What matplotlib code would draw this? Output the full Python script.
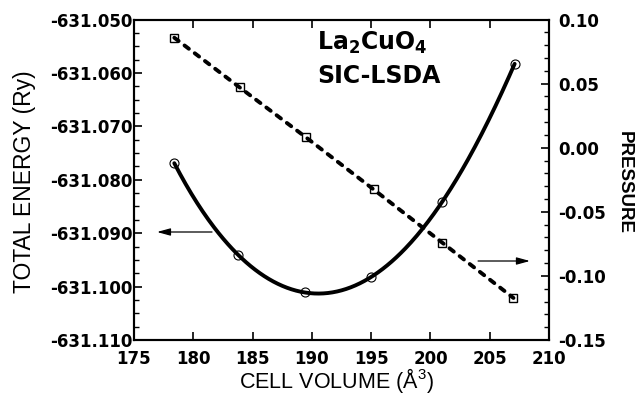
import numpy as np
import matplotlib
matplotlib.use('Agg')
import matplotlib.pyplot as plt
from matplotlib.ticker import MultipleLocator

plt.rcParams['mathtext.fontset'] = 'custom'
plt.rcParams['mathtext.rm'] = 'Liberation Sans'
plt.rcParams['mathtext.bf'] = 'DejaVu Sans:bold'

# ---- data ----
energy_volume = [178.4, 183.8, 189.4, 195.0, 201.0, 207.1]
energy = [-631.0769, -631.0941, -631.1011, -631.0982, -631.0841, -631.0583]
pressure_volume = [178.4, 183.9, 189.5, 195.2, 201.0, 207.0]
pressure = [0.0858, 0.0471, 0.0081, -0.0325, -0.0741, -0.1172]

x_ticks = [175, 180, 185, 190, 195, 200, 205, 210]
x_tick_labels = ['175', '180', '185', '190', '195', '200', '205', '210']
energy_ticks = [-631.110, -631.100, -631.090, -631.080, -631.070, -631.060, -631.050]
energy_tick_labels = ['-631.110', '-631.100', '-631.090', '-631.080',
                      '-631.070', '-631.060', '-631.050']
pressure_ticks = [-0.15, -0.10, -0.05, 0.00, 0.05, 0.10]
pressure_tick_labels = ['-0.15', '-0.10', '-0.05', '0.00', '0.05', '0.10']

tick_kw = dict(fontfamily='DejaVu Sans', fontweight='bold', fontsize=12)

fig = plt.figure(figsize=(6.39, 3.98), dpi=100)
ax = fig.add_axes([0.2097, 0.1457, 0.6495, 0.8053])
ax2 = ax.twinx()

# smooth curve through the energy points
fit = np.polynomial.Polynomial.fit(energy_volume, energy, 5)
vv = np.linspace(min(energy_volume), max(energy_volume), 300)
ax.plot(vv, fit(vv), color='black', lw=2.8, solid_capstyle='round', zorder=2)
ax.plot(energy_volume, energy, linestyle='none', marker='o', markersize=6.5,
        markerfacecolor='none', markeredgecolor='black', markeredgewidth=0.8, zorder=3)

# pressure: dashed line with open squares
pl, = ax2.plot(pressure_volume, pressure, color='black', lw=2.8,
               dash_capstyle='round', zorder=2)
pl.set_dashes((1.4, 1.9))
ax2.plot(pressure_volume, pressure, linestyle='none', marker='s', markersize=5.5,
         markerfacecolor='none', markeredgecolor='black', markeredgewidth=1.0, zorder=3)

ax.set_xlim(175, 210)
ax.set_ylim(-631.110, -631.050)
ax2.set_ylim(-0.15, 0.10)

ax.set_xticks(x_ticks, labels=x_tick_labels, **tick_kw)
ax.set_yticks(energy_ticks, labels=energy_tick_labels, **tick_kw)
ax2.set_yticks(pressure_ticks, labels=pressure_tick_labels, **tick_kw)
ax.yaxis.set_minor_locator(MultipleLocator(0.0025))
ax2.yaxis.set_minor_locator(MultipleLocator(0.01))

ax.tick_params(axis='x', which='major', direction='in', length=6, width=1.2,
               top=True, bottom=True, pad=7)
ax.tick_params(axis='y', which='major', direction='in', length=6, width=1.2,
               left=True, right=False, pad=1)
ax.tick_params(axis='y', which='minor', direction='in', length=3.5, width=1.0,
               left=True, right=False)
ax2.tick_params(axis='y', which='major', direction='in', length=6, width=1.2,
                left=False, right=True, pad=6.5)
ax2.tick_params(axis='y', which='minor', direction='in', length=3.5, width=1.0,
                left=False, right=True)
ax2.tick_params(axis='x', which='both', top=False, bottom=False)

for a in (ax, ax2):
    for s in a.spines.values():
        s.set_linewidth(1.5)

# axis labels
ax.set_xlabel('CELL VOLUME (Å$^{3}$)', fontfamily='Liberation Sans', fontsize=15.5)
ax.xaxis.label.set_verticalalignment('baseline')
ax.xaxis.set_label_coords(0.489, -0.151)

ax.set_ylabel('TOTAL ENERGY (Ry)', fontfamily='Liberation Sans', fontsize=16.5)
ax.yaxis.set_label_coords(-0.236, 0.493)

ax2.set_ylabel('PRESSURE', fontfamily='Liberation Sans', fontweight='bold',
               fontsize=13.5, rotation=-90)
ax2.yaxis.label.set_verticalalignment('bottom')
ax2.yaxis.set_label_coords(1.16, 0.493)

# compound label
ax.text(0.441, 0.905, r'$\mathbf{La_2CuO_4}$', transform=ax.transAxes,
        fontsize=17, ha='left', va='baseline')
ax.text(0.441, 0.802, 'SIC-LSDA', transform=ax.transAxes, fontfamily='DejaVu Sans',
        fontweight='bold', fontsize=17, ha='left', va='baseline')

# arrows pointing to the respective axes
arrow_kw = dict(arrowstyle='-|>,head_length=0.8,head_width=0.22', color='black',
                lw=0.9, shrinkA=0, shrinkB=0, mutation_scale=10)
ax.annotate('', xy=(0.0554, 0.337), xytext=(0.188, 0.337), xycoords='axes fraction',
            textcoords='axes fraction', arrowprops=arrow_kw)
ax.annotate('', xy=(0.954, 0.2465), xytext=(0.829, 0.2465), xycoords='axes fraction',
            textcoords='axes fraction', arrowprops=arrow_kw)

fig.savefig('out.png', dpi=100)
